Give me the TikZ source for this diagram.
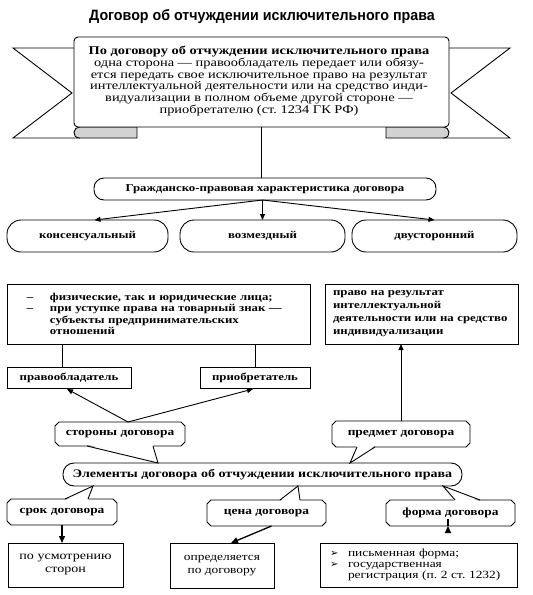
\documentclass[tikz,border=0pt]{standalone}
\usepackage{fontspec}
\setmainfont{Liberation Serif}[FakeStretch=1.22]
\newfontfamily\titlefont{Liberation Sans}[FakeStretch=0.95]
\newfontfamily\symfont{DejaVu Sans}
\usetikzlibrary{arrows.meta,calc}
\newcommand\chamfoutline[1]{%
  \draw ($(#1.north west)+(4,0)$) -- ($(#1.north east)+(-4,0)$) -- ($(#1.north east)+(0,4)$)
   -- ($(#1.south east)+(0,-4)$) -- ($(#1.south east)+(-4,0)$) -- ($(#1.south west)+(4,0)$)
   -- ($(#1.south west)+(0,-4)$) -- ($(#1.north west)+(0,4)$) -- cycle;}
\begin{document}
\frenchspacing
\begin{tikzpicture}[x=1pt,y=-1pt,line width=0.9pt,
  every node/.style={inner sep=0pt,outer sep=0pt},
  tip/.style={-{Triangle[length=6pt,width=5pt]}},
  shorttip/.style={line width=1.3pt,-{Triangle[length=7pt,width=6pt]}},
  rbox/.style={draw,fill=white,rounded corners=#1},
  sbox/.style={draw,fill=white},
  cnode/.style={font=\bfseries\fontsize{11}{13}\selectfont},
  bt/.style={font=\bfseries\fontsize{10.5}{12}\selectfont}]
\useasboundingbox (0,0) rectangle (533,595);
% title
\node[font=\titlefont\bfseries\fontsize{15}{17}\selectfont] (title) at (262,17) {Договор об отчуждении исключительного права};
% banner tails
\draw[fill=white] (74,48) -- (13,48) -- (72,93) -- (13,138) -- (80,138);
\draw[fill=white] (449,48) -- (510,48) -- (451,93) -- (510,138) -- (443,138);
\draw[fill=gray!35] (80,127) -- (137,127) -- (137,138) -- (80,138) .. controls (75,138) and (74,135) .. (74,132) .. controls (74,129) and (77,127) .. (80,127) -- cycle;
\draw[fill=gray!35] (443,127) -- (386,127) -- (386,138) -- (443,138) .. controls (448,138) and (449,135) .. (449,132) .. controls (449,129) and (446,127) .. (443,127) -- cycle;
\node[rbox=4pt,minimum width=375pt,minimum height=90pt] (banner) at (261.5,82) {};
\node[align=center,font=\fontsize{11.8}{11.8}\selectfont] (btext) at (259,81)
 {\textbf{По договору об отчуждении исключительного права}\\
  одна сторона — правообладатель передает или обязу-\\
  ется передать свое исключительное право на результат\\
  интеллектуальной деятельности или на средство инди-\\
  видуализации в полном объеме другой стороне —\\
  приобретателю (ст. 1234 ГК РФ)};
% characteristic
\node[rbox=10pt,bt,minimum width=342pt,minimum height=22pt] (gp) at (265,189) {Гражданско-правовая характеристика договора};
\node[rbox=14pt,bt,minimum width=161pt,minimum height=32pt] (k1) at (87.5,236) {консенсуальный};
\node[rbox=14pt,bt,minimum width=165pt,minimum height=32pt] (k2) at (262.5,236) {возмездный};
\node[rbox=14pt,bt,minimum width=165pt,minimum height=32pt] (k3) at (434.5,236) {двусторонний};
\draw (banner.south) -- (banner.south |- gp.north);
\coordinate (gpo) at ($(gp.south)+(-2.5,0)$);
\draw[tip] (gpo) -- ($(k1.north)+(7,0)$);
\draw[tip] (gpo) -- (gpo |- k2.north);
\draw[tip] (gpo) -- (k3.north);
% top boxes
\node[sbox,text width=263pt,inner xsep=20pt,minimum height=60pt,align=left,font=\bfseries\fontsize{10.5}{11.5}\selectfont] (tl) at (158.5,314)
 {\makebox[23pt][l]{–}физические, так и юридические лица;\\
  \makebox[23pt][l]{–}при уступке права на товарный знак —\\
  \hspace*{23pt}субъекты предпринимательских\\
  \hspace*{23pt}отношений};
\node[sbox,text width=177pt,inner xsep=8pt,minimum height=60pt,align=left,font=\bfseries\fontsize{10.5}{13}\selectfont] (tr) at (421.5,314)
 {право на результат\\ интеллектуальной\\ деятельности или на средство\\ индивидуализации};
\node[sbox,bt,minimum width=124pt,minimum height=21pt] (pb) at (69,377.5) {правообладатель};
\node[sbox,bt,minimum width=110pt,minimum height=21pt] (pr) at (255,377.5) {приобретатель};
\draw (pb.north -| 62,0) -- (tl.south -| 62,0);
\draw (pr.north) -- (pr.north |- tl.south);
% elements
\node[rbox=11pt,font=\bfseries\fontsize{11.5}{13}\selectfont,minimum width=399pt,minimum height=23pt] (el) at (262.5,474.5) {Элементы договора об отчуждении исключительного права};
\node[cnode,minimum width=130pt,minimum height=24pt] (st) at (120,434) {стороны договора};
\node[cnode,minimum width=138pt,minimum height=26pt] (pm) at (401,434) {предмет договора};
\chamfoutline{st}
\chamfoutline{pm}
\fill[white] (87,444.5) -- (158,463) -- (153,444.5) -- cycle;
\draw (87,446) -- (158,463) -- (153,446);
\fill[white] (357,445.5) -- (350,463) -- (375,445.5) -- cycle;
\draw (357,447) -- (350,463) -- (375,447);
\draw[tip] ($(st.north)+(8,0)$) -- ($(pb.south)+(-2,1)$);
\draw[tip] ($(st.north)+(8,0)$) -- ($(pr.south)+(-2,1)$);
\draw[tip] (pm.north) -- (pm.north |- tr.south);
% bottom callouts
\node[cnode,minimum width=110pt,minimum height=26pt] (sk) at (62,512) {срок договора};
\node[cnode,minimum width=119pt,minimum height=26pt] (cn) at (266.5,513) {цена договора};
\node[cnode,minimum width=129pt,minimum height=26pt] (fm) at (450.5,513) {форма договора};
\chamfoutline{sk}
\chamfoutline{cn}
\chamfoutline{fm}
\fill[white] (65,500.5) -- (93,486) -- (88,500.5) -- cycle;
\draw (65,499) -- (93,486) -- (88,499);
\fill[white] (280,501.5) -- (298,486) -- (300,501.5) -- cycle;
\draw (280,500) -- (298,486) -- (300,500);
\fill[white] (455,501.5) -- (443,486) -- (480,501.5) -- cycle;
\draw (455,500) -- (443,486) -- (480,500);
% bottom boxes
\node[sbox,align=center,font=\fontsize{11.5}{13}\selectfont,minimum width=115pt,minimum height=44pt] (pu) at (65.5,565) {по усмотрению\\ сторон};
\node[sbox,align=center,font=\fontsize{11}{13}\selectfont,minimum width=104pt,minimum height=45pt] (op) at (222,565.5) {определяется\\ по договору};
\node[sbox,align=left,text width=177pt,inner xsep=10pt,font=\fontsize{11}{11.2}\selectfont,minimum height=44pt] (pf) at (418.5,565)
 {\makebox[18pt][l]{\symfont\fontsize{10}{11}\selectfont ➢}письменная форма;\\
  \makebox[18pt][l]{\symfont\fontsize{10}{11}\selectfont ➢}государственная\\
  \hspace*{18pt}регистрация (п. 2 ст. 1232)};
\coordinate (cnb) at ($(cn.south)+(5,0)$);
\coordinate (opa) at ($(op.north)+(9,0)$);
\draw[shorttip] (sk.south) -- (sk.south |- pu.north);
\draw[shorttip,draw=black,fill=black] (cnb) -- (opa);
\draw[shorttip] ($(fm.south)+(-2.5,0)$) -- ($(fm.south)+(-2.5,0)$ |- pf.north);
\end{tikzpicture}
\end{document}
